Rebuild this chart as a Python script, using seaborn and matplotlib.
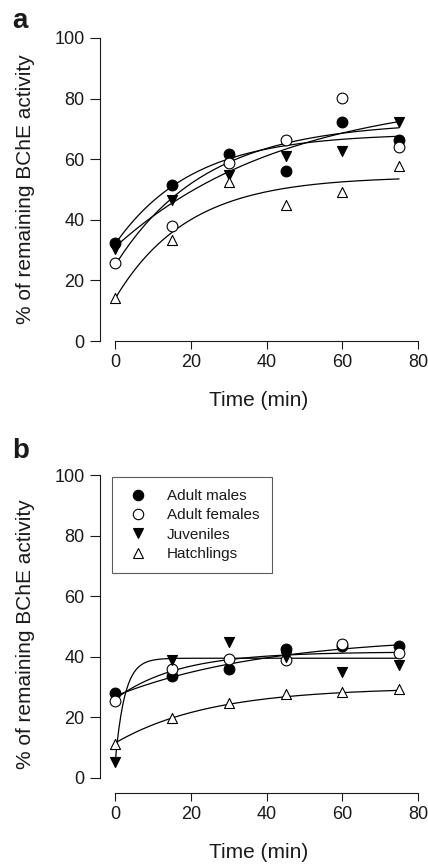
import numpy as np
import pandas as pd
import matplotlib
matplotlib.use("Agg")
import matplotlib.pyplot as plt
from matplotlib.lines import Line2D
import seaborn as sns

# zaman noktalari (dk)
times = [0, 15, 30, 45, 60, 75]
groups = ["Adult males", "Adult females", "Juveniles", "Hatchlings"]

# panel a - okunan degerler
a_males = [32.2, 51.4, 61.6, 56.2, 72.3, 66.4]
a_females = [25.6, 38.1, 58.7, 66.2, 80.3, 63.9]
a_juveniles = [30.5, 46.5, 54.8, 61.1, 62.6, 72.4]
a_hatchlings = [14.2, 33.3, 52.6, 44.9, 49.3, 57.9]

# panel b - okunan degerler
b_males = [28.1, 33.6, 36.1, 42.7, 43.5, 43.7]
b_females = [25.4, 36.1, 39.3, 38.9, 44.1, 41.1]
b_juveniles = [5.3, 38.9, 44.9, 39.8, 35.0, 37.4]
b_hatchlings = [11.3, 19.9, 24.6, 27.6, 28.4, 29.4]

# egri parametreleri y = y0 + span*(1-exp(-k t)), resimden kestirildi
a_y0 = [32.0, 25.0, 31.0, 14.0]
a_span = [36.5, 47.4, 51.0, 40.3]
a_k = [0.049, 0.042, 0.0223, 0.052]

b_y0 = [27.0, 26.0, 5.0, 11.5]
b_span = [20.0, 15.6, 34.5, 18.3]
b_k = [0.025, 0.06, 0.4, 0.04]

markers = {"Adult males": "o", "Adult females": "o", "Juveniles": "v", "Hatchlings": "^"}
faces = {"Adult males": "black", "Adult females": "white", "Juveniles": "black", "Hatchlings": "white"}
sizes = {"Adult males": 60, "Adult females": 60, "Juveniles": 52, "Hatchlings": 52}

sns.set_style("ticks")
plt.rcParams["font.family"] = ["Liberation Sans", "DejaVu Sans"]
plt.rcParams["text.color"] = "#1a1a1a"
plt.rcParams["axes.labelcolor"] = "#1a1a1a"
plt.rcParams["xtick.color"] = "#1a1a1a"
plt.rcParams["ytick.color"] = "#1a1a1a"


def nokta_tablosu(vals):
    rows = []
    for g, v in zip(groups, vals):
        for t, y in zip(times, v):
            rows.append({"t": t, "val": y, "group": g})
    return pd.DataFrame(rows)


def egri_tablosu(y0s, spans, ks):
    tt = np.linspace(0, 75, 300)
    parts = []
    for g, y0, s, k in zip(groups, y0s, spans, ks):
        parts.append(pd.DataFrame({"t": tt, "val": y0 + s * (1 - np.exp(-k * tt)), "group": g}))
    return pd.concat(parts, ignore_index=True)


def panel(ax, vals, y0s, spans, ks, ymin):
    curves = egri_tablosu(y0s, spans, ks)
    sns.lineplot(data=curves, x="t", y="val", units="group", estimator=None,
                 color="black", linewidth=0.9, ax=ax, zorder=2)
    pts = nokta_tablosu(vals)
    for g in groups:
        sub = pts[pts["group"] == g]
        sns.scatterplot(data=sub, x="t", y="val", marker=markers[g], color=faces[g],
                        edgecolor="black", linewidth=0.8, s=sizes[g], ax=ax,
                        zorder=3, legend=False)
    ax.set_xlim(-4, 80)
    ax.set_ylim(ymin, 100)
    ax.set_xticks([0, 20, 40, 60, 80])
    ax.set_yticks([0, 20, 40, 60, 80, 100])
    sns.despine(ax=ax)
    ax.spines["left"].set_bounds(0, 100)
    ax.spines["bottom"].set_bounds(0, 80)
    for sp in ["left", "bottom"]:
        ax.spines[sp].set_linewidth(0.8)
        ax.spines[sp].set_color("#1a1a1a")
    ax.tick_params(axis="y", direction="out", length=7, width=0.8, labelsize=13, pad=4)
    ax.tick_params(axis="x", direction="out", length=5.5, width=0.8, labelsize=13, pad=4)
    ax.set_xlabel("Time (min)", fontsize=15, labelpad=14)
    ax.set_ylabel("% of remaining BChE activity", fontsize=15, labelpad=14)


fig = plt.figure(figsize=(4.28, 8.64), dpi=100)
ax_a = fig.add_axes([100 / 428, 1 - 341 / 864, 318 / 428, 303 / 864])
ax_b = fig.add_axes([100 / 428, 1 - 793 / 864, 318 / 428, 318 / 864])

panel(ax_a, [a_males, a_females, a_juveniles, a_hatchlings], a_y0, a_span, a_k, 0)
panel(ax_b, [b_males, b_females, b_juveniles, b_hatchlings], b_y0, b_span, b_k, -5)

# lejant sadece b panelinde
handles = [Line2D([], [], linestyle="none", marker=markers[g], markerfacecolor=faces[g],
                  markeredgecolor="black", markeredgewidth=0.8, markersize=7.5)
           for g in groups]
leg = ax_b.legend(handles, groups, loc="upper left", bbox_to_anchor=(0.038, 0.994),
                  borderaxespad=0, fontsize=11, frameon=True, fancybox=False,
                  borderpad=0.8, handlelength=1.8, handletextpad=1.0, labelspacing=0.35)
leg.get_frame().set_edgecolor("#333333")
leg.get_frame().set_linewidth(0.8)

fig.text(12 / 428, 1 - 27.5 / 864, "a", fontsize=20, fontweight="bold", va="baseline")
fig.text(12 / 428, 1 - 458 / 864, "b", fontsize=20, fontweight="bold", va="baseline")

fig.savefig("out.png", dpi=100)
